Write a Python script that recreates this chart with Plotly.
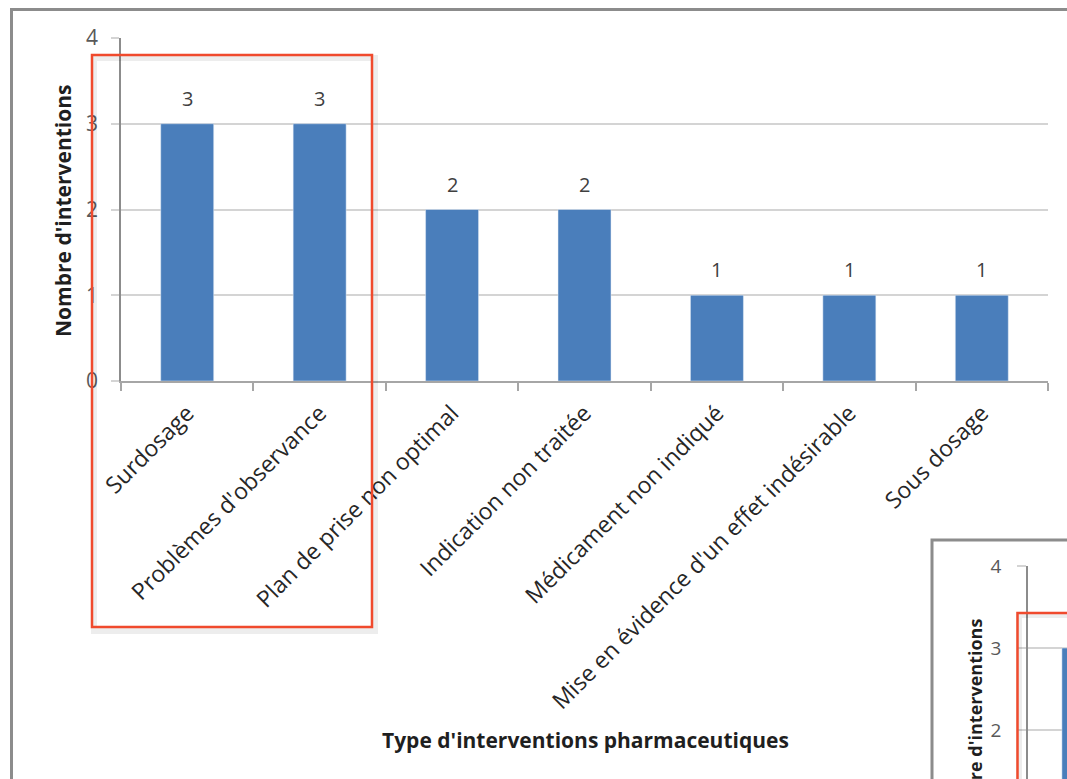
import plotly.graph_objects as go

W, H = 1067, 779

# Pharmaceutical intervention counts by type
categories = [
    "Surdosage",
    "Problèmes d'observance",
    "Plan de prise non optimal",
    "Indication non traitée",
    "Médicament non indiqué",
    "Mise en évidence d'un effet indésirable",
    "Sous dosage",
]
counts = [3, 3, 2, 2, 1, 1, 1]
y_ticks = [0, 1, 2, 3, 4]
inset_y_ticks = [2, 3, 4]
y_title = "Nombre d'interventions"
x_title = "Type d'interventions pharmaceutiques"

FONT = "Open Sans"
BAR = "#4a7ebb"
GRID = "#d4d4d4"
RED = "#f04a2d"
FRAME = "#8c8c8c"


def px(x):
    return x / W


def py(y):
    return 1 - y / H


fig = go.Figure()

# main chart bars
fig.add_trace(go.Bar(x=categories, y=counts, marker_color=BAR, width=0.4,
                     xaxis="x", yaxis="y", hoverinfo="skip"))
# second copy of the chart, partially visible in the lower-right corner
fig.add_trace(go.Bar(x=categories, y=counts, marker_color=BAR, width=0.4,
                     xaxis="x2", yaxis="y2", hoverinfo="skip"))

annotations = []
for c, v in zip(categories, counts):
    annotations.append(dict(
        x=c, y=v, xref="x", yref="y", text=str(v), showarrow=False,
        yanchor="bottom", yshift=10,
        font=dict(family=FONT, size=20, color="#404040")))

annotations += [
    dict(x=px(63), y=py(211), xref="paper", yref="paper", text=y_title,
         textangle=-90, showarrow=False, xanchor="center", yanchor="middle",
         font=dict(family=FONT, size=21, color="#1f1f1f", weight="bold")),
    dict(x=px(585), y=py(740), xref="paper", yref="paper", text=x_title,
         showarrow=False, xanchor="center", yanchor="middle",
         font=dict(family=FONT, size=21, color="#1f1f1f", weight="bold")),
    dict(x=px(975), y=py(617), xref="paper", yref="paper", text=y_title,
         textangle=-90, showarrow=False, xanchor="center", yanchor="top",
         font=dict(family=FONT, size=18, color="#1f1f1f", weight="bold")),
]

shapes = [
    # outer frame of the main chart
    dict(type="rect", xref="paper", yref="paper", layer="below",
         x0=px(11.5), y0=py(9.5), x1=px(1120), y1=py(840),
         line=dict(color=FRAME, width=3)),
    # frame of the second chart
    dict(type="rect", xref="paper", yref="paper", layer="below",
         x0=px(932), y0=py(540), x1=px(1120), y1=py(840),
         fillcolor="white", line=dict(color=FRAME, width=3)),
    # soft shadow behind the highlight box
    dict(type="rect", xref="paper", yref="paper", layer="above",
         x0=px(94), y0=py(58), x1=px(375), y1=py(631),
         line=dict(color="rgba(0,0,0,0.07)", width=6)),
    # highlight box around the first two categories
    dict(type="rect", xref="paper", yref="paper", layer="above",
         x0=px(92), y0=py(55), x1=px(372), y1=py(627),
         line=dict(color=RED, width=2.5)),
    dict(type="rect", xref="paper", yref="paper", layer="above",
         x0=px(1019), y0=py(615), x1=px(1120), y1=py(840),
         line=dict(color="rgba(0,0,0,0.07)", width=6)),
    dict(type="rect", xref="paper", yref="paper", layer="above",
         x0=px(1017.5), y0=py(613), x1=px(1120), y1=py(840),
         line=dict(color=RED, width=2.5)),
]

fig.update_layout(
    width=W, height=H,
    margin=dict(l=0, r=0, t=0, b=0, autoexpand=False),
    paper_bgcolor="white", plot_bgcolor="rgba(0,0,0,0)",
    showlegend=False,
    xaxis=dict(
        domain=[px(121), px(1048)], anchor="y", type="category",
        range=[-0.5, 6.5], tickangle=-45, ticks="outside", tickson="boundaries",
        ticklen=8, tickwidth=1.5, tickcolor="#a6a6a6", automargin=False,
        showline=True, linecolor="#a6a6a6", linewidth=1.5, showgrid=False,
        ticklabelstandoff=8,
        tickfont=dict(family=FONT, size=23, color="#262626"),
    ),
    yaxis=dict(
        domain=[py(381), py(38)], anchor="x", range=[0, 4], automargin=False,
        tickvals=y_ticks, ticks="outside", ticklen=8, tickwidth=1.5,
        tickcolor=GRID, gridcolor=GRID, gridwidth=1.5,
        showline=True, linecolor="#8c8c8c", linewidth=1.5, zeroline=False,
        ticklabelstandoff=9,
        tickfont=dict(family=FONT, size=21, color="#595959"),
    ),
    xaxis2=dict(
        domain=[px(1028), 1], anchor="y2", type="category", automargin=False,
        range=[-0.5, -0.155], showticklabels=False, ticks="",
        showline=False, showgrid=False,
    ),
    yaxis2=dict(
        domain=[0, py(566)], anchor="x2", range=[4 - 213 / 82, 4],
        tickvals=inset_y_ticks, ticks="outside", ticklen=9, tickwidth=1.5,
        tickcolor=GRID, gridcolor=GRID, gridwidth=1.5, automargin=False,
        showline=True, linecolor="#8c8c8c", linewidth=1.5, zeroline=False,
        ticklabelstandoff=12,
        tickfont=dict(family=FONT, size=19, color="#595959"),
    ),
    annotations=annotations,
    shapes=shapes,
)

fig.write_html("out.html")
